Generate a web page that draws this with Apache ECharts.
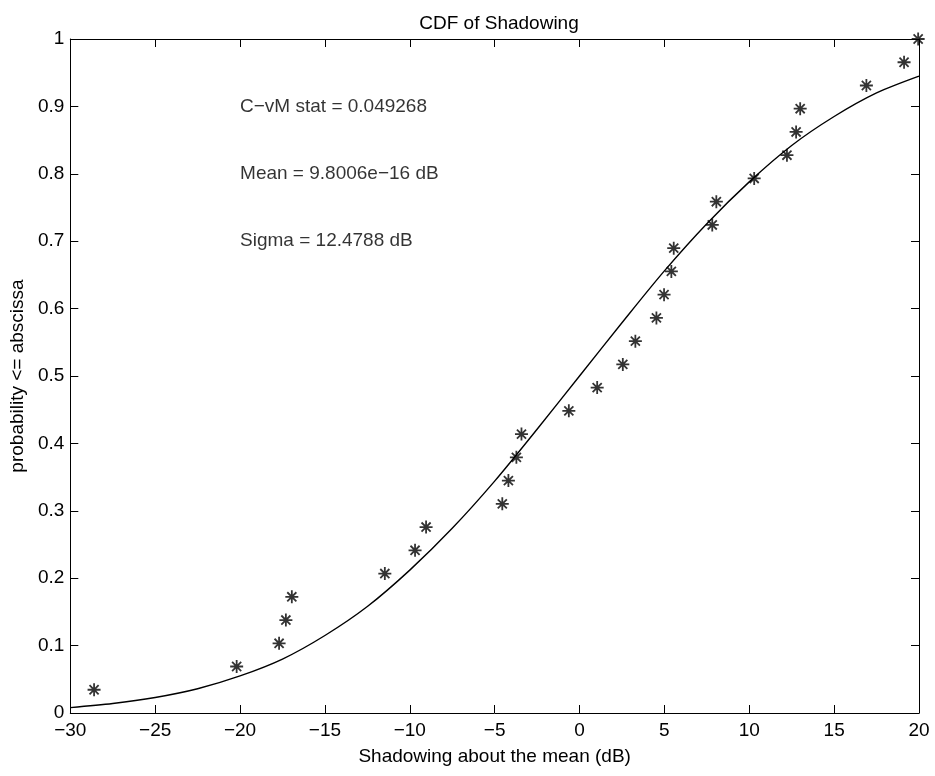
<!DOCTYPE html>
<html>
<head>
<meta charset="utf-8">
<script src="https://cdn.jsdelivr.net/npm/echarts@6/dist/echarts.min.js"></script>
<style>
html,body{margin:0;padding:0;background:#fff;}
#chart{width:935px;height:776px;}
</style>
</head>
<body>
<div id="chart"></div>
<script>
// Empirical CDF points (shadowing dB, probability)
const sampleX = [-28.6, -20.2, -17.7, -17.3, -16.95, -11.47, -9.69, -9.04, -4.55, -4.19, -3.72, -3.42,
  -0.63, 1.04, 2.55, 3.29, 4.53, 4.98, 5.41, 5.55, 7.82, 8.06, 10.29, 12.22, 12.76, 13.0, 16.9, 19.12, 19.95];
const sampleY = [0.0345, 0.069, 0.1034, 0.1379, 0.1724, 0.2069, 0.2414, 0.2759, 0.3103, 0.3448, 0.3793, 0.4138,
  0.4483, 0.4828, 0.5172, 0.5517, 0.5862, 0.6207, 0.6552, 0.6897, 0.7241, 0.7586, 0.7931, 0.8276, 0.8621, 0.8966,
  0.9310, 0.9655, 1.0];
// Fitted curve
const curveX = [-30, -27.5, -25, -22.5, -20, -17.5, -15, -12.5, -10, -7.5, -5, -2.5, 0, 2.5, 5, 7.5, 10, 12.5, 15, 17.5, 20];
const curveY = [0.008, 0.014, 0.023, 0.036, 0.055, 0.080, 0.115, 0.158, 0.212, 0.274, 0.344, 0.421, 0.500,
  0.579, 0.656, 0.726, 0.788, 0.842, 0.885, 0.920, 0.945];
// Annotations
const noteX = [-20, -20, -20];
const noteY = [0.9, 0.8, 0.7];
const noteText = ['C\u2212vM stat = 0.049268', 'Mean = 9.8006e\u221216 dB', 'Sigma = 12.4788 dB'];

const FONT = 'Liberation Sans, Arial, Helvetica, sans-serif';
const FS = 19;
const chart = echarts.init(document.getElementById('chart'), null, {renderer: 'canvas'});
const tickCommon = {show: true, inside: true, length: 8, lineStyle: {color: '#000', width: 1}};
const lineCommon = {show: true, onZero: false, lineStyle: {color: '#000', width: 1}};

const option = {
  backgroundColor: '#fff',
  animation: false,
  title: {
    text: 'CDF of Shadowing',
    left: 494, textAlign: 'center', top: 9,
    textStyle: {fontFamily: FONT, fontSize: FS, fontWeight: 'normal', color: '#000'}
  },
  grid: {left: 69, right: 16, top: 39, bottom: 63, containLabel: false},
  xAxis: [{
    type: 'value', min: -30, max: 20, interval: 5, position: 'bottom',
    axisLine: lineCommon, axisTick: tickCommon, splitLine: {show: false},
    axisLabel: {color: '#000', fontFamily: FONT, fontSize: FS, margin: 8,
      formatter: v => String(v).replace('-', '\u2212')},
    name: 'Shadowing about the mean (dB)', nameLocation: 'middle', nameGap: 34,
    nameTextStyle: {color: '#000', fontFamily: FONT, fontSize: FS}
  }, {
    type: 'value', min: -30, max: 20, interval: 5, position: 'top',
    axisLine: lineCommon, axisTick: tickCommon, splitLine: {show: false}, axisLabel: {show: false}
  }],
  yAxis: [{
    type: 'value', min: 0, max: 1, interval: 0.1, position: 'left',
    axisLine: lineCommon, axisTick: tickCommon, splitLine: {show: false},
    axisLabel: {color: '#000', fontFamily: FONT, fontSize: FS, margin: 6,
      formatter: v => String(+v.toFixed(1))},
    name: 'probability <= abscissa', nameLocation: 'middle', nameGap: 40,
    nameTextStyle: {color: '#000', fontFamily: FONT, fontSize: FS}
  }, {
    type: 'value', min: 0, max: 1, interval: 0.1, position: 'right',
    axisLine: lineCommon, axisTick: tickCommon, splitLine: {show: false}, axisLabel: {show: false}
  }],
  series: [{
    type: 'line', data: curveX.map((x, i) => [x, curveY[i]]), smooth: 0.3,
    symbol: 'none', lineStyle: {color: '#000', width: 1.4}, silent: true, z: 2
  }, {
    type: 'scatter', data: sampleX.map((x, i) => [x, sampleY[i]]),
    symbol: 'path://M0,-10L0,10M-10,0L10,0M-7,-7L7,7M-7,7L7,-7',
    symbolSize: 13,
    itemStyle: {color: 'rgba(0,0,0,0)', borderColor: '#000', borderWidth: 1.8},
    z: 3, silent: true
  }, {
    type: 'scatter', data: noteX.map((x, i) => [x, noteY[i], noteText[i]]),
    symbolSize: 0, silent: true,
    label: {show: true, position: 'right', distance: 0, formatter: p => p.data[2],
      color: '#000', fontFamily: FONT, fontSize: FS}
  }]
};
chart.setOption(option);
</script>
</body>
</html>
